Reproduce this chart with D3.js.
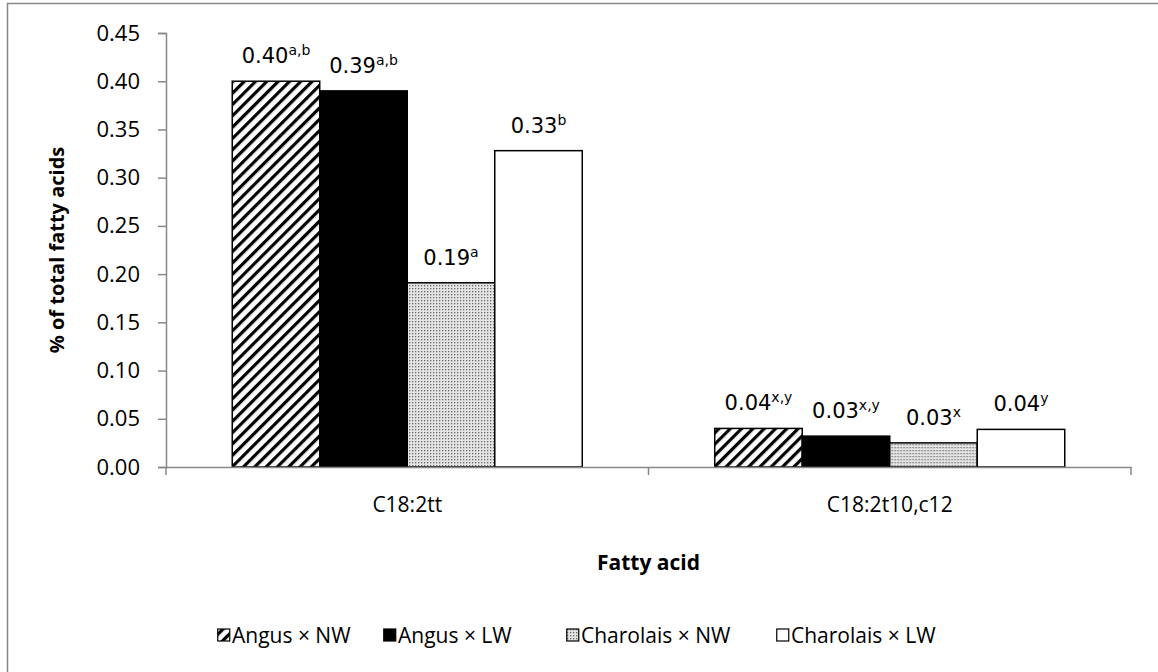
<!DOCTYPE html>
<html>
<head>
<meta charset="utf-8">
<script src="https://cdn.jsdelivr.net/npm/d3@7"></script>
<style>
  body { margin: 0; background: #fff; }
  text { font-family: "Open Sans", sans-serif; }
</style>
</head>
<body>
<div id="chart"></div>
<script>
// chart data
const categories = ["C18:2tt", "C18:2t10,c12"];
const series = ["Angus × NW", "Angus × LW", "Charolais × NW", "Charolais × LW"];
const values = [
  [0.400, 0.040],
  [0.390, 0.032],
  [0.191, 0.025],
  [0.328, 0.039]
];
const labelText = [
  ["0.40", "0.04"],
  ["0.39", "0.03"],
  ["0.19", "0.03"],
  ["0.33", "0.04"]
];
const labelSup = [
  ["a,b", "x,y"],
  ["a,b", "x,y"],
  ["a", "x"],
  ["b", "y"]
];
const yTicks = [0, 0.05, 0.10, 0.15, 0.20, 0.25, 0.30, 0.35, 0.40, 0.45];

const W = 1158, H = 672;
const margin = { left: 166, right: 27, top: 33, bottom: 205 };
const width = W - margin.left - margin.right,
      height = H - margin.top - margin.bottom;

const svg = d3.select('#chart').append('svg')
    .attr('width', W).attr('height', H);

// patterns
const defs = svg.append('defs');
const hatch = defs.append('pattern')
    .attr('id', 'hatch').attr('patternUnits', 'userSpaceOnUse')
    .attr('width', 8).attr('height', 8)
    .attr('patternTransform', 'rotate(45)');
hatch.append('rect').attr('width', 8).attr('height', 8).attr('fill', '#fff');
hatch.append('rect').attr('width', 3.2).attr('height', 8).attr('fill', '#000');

const dots = defs.append('pattern')
    .attr('id', 'dots').attr('patternUnits', 'userSpaceOnUse')
    .attr('width', 3).attr('height', 3);
dots.append('rect').attr('width', 3).attr('height', 3).attr('fill', '#e4e4e4');
dots.append('rect').attr('width', 1.3).attr('height', 1.3).attr('fill', '#6a6a6a');

const fills = ['url(#hatch)', '#000', 'url(#dots)', '#fff'];

// outer border
svg.append('rect')
    .attr('x', 7.5).attr('y', 3.5).attr('width', 1170).attr('height', 690)
    .attr('fill', 'none').attr('stroke', '#888').attr('stroke-width', 1.5);

const g = svg.append('g').attr('transform', `translate(${margin.left},${margin.top})`);

const x0 = d3.scaleBand().domain(categories).range([0, width]).paddingInner(0).paddingOuter(0);
const x1 = d3.scaleBand().domain(series).range([0, x0.bandwidth()]).paddingOuter(0.757);
const y = d3.scaleLinear().domain([0, 0.45]).range([height, 0]);

// y axis
const yAxis = g.append('g')
    .call(d3.axisLeft(y).tickValues(yTicks).tickFormat(d3.format('.2f')).tickSize(8).tickPadding(18));
yAxis.select('.domain').attr('stroke', '#888').attr('stroke-width', 1.5);
yAxis.selectAll('.tick line').attr('stroke', '#888').attr('stroke-width', 1.5);
yAxis.selectAll('.tick text').attr('font-size', 22).attr('fill', '#000')
    .style('font-family', '"Open Sans", sans-serif');

// bars
const groups = g.selectAll('.grp')
    .data(categories)
    .enter().append('g')
      .attr('class', 'grp')
      .attr('transform', d => `translate(${x0(d)},0)`);

groups.each(function(cat, ci) {
    const sel = d3.select(this);
    series.forEach((s, si) => {
        const v = values[si][ci];
        sel.append('rect')
            .attr('x', x1(s))
            .attr('y', y(v))
            .attr('width', x1.bandwidth())
            .attr('height', height - y(v))
            .attr('fill', fills[si])
            .attr('stroke', '#000')
            .attr('stroke-width', 1.5);
        const t = sel.append('text')
            .attr('x', x1(s) + x1.bandwidth() / 2)
            .attr('y', y(v) - 18)
            .attr('text-anchor', 'middle')
            .attr('font-size', 21)
            .attr('fill', '#000')
            .style('font-family', '"DejaVu Sans", sans-serif');
        t.append('tspan').text(labelText[si][ci]);
        t.append('tspan').attr('dy', -8).attr('font-size', 14).text(labelSup[si][ci]);
    });
});

// x axis
const xAxis = g.append('g')
    .attr('transform', `translate(0,${height})`)
    .call(d3.axisBottom(x0).tickSize(0).tickPadding(30));
xAxis.select('.domain').attr('stroke', '#888').attr('stroke-width', 1.5);
xAxis.selectAll('.tick text').attr('font-size', 21).attr('fill', '#000')
    .style('font-family', '"Open Sans", sans-serif');
// category boundary ticks
xAxis.selectAll('.bound')
    .data([0, x0.bandwidth(), width])
    .enter().append('line')
      .attr('class', 'bound')
      .attr('x1', d => d).attr('x2', d => d)
      .attr('y1', 0).attr('y2', 8)
      .attr('stroke', '#888').attr('stroke-width', 1.5);

// axis titles
svg.append('text')
    .attr('transform', `translate(64,${margin.top + height / 2}) rotate(-90)`)
    .attr('text-anchor', 'middle')
    .attr('font-size', 20).attr('font-weight', 'bold')
    .text('% of total fatty acids');

svg.append('text')
    .attr('x', margin.left + width / 2).attr('y', 570)
    .attr('text-anchor', 'middle')
    .attr('font-size', 21).attr('font-weight', 'bold')
    .text('Fatty acid');

// legend
const legendX = [217, 383, 566, 776];
const legend = svg.append('g').attr('transform', 'translate(0,635)');
series.forEach((s, i) => {
    legend.append('rect')
        .attr('x', legendX[i] + 0.75).attr('y', -6)
        .attr('width', 12).attr('height', 12)
        .attr('fill', fills[i])
        .attr('stroke', '#000').attr('stroke-width', 1.2);
    legend.append('text')
        .attr('x', legendX[i] + 15).attr('y', 8)
        .attr('font-size', 21)
        .text(s);
});
</script>
</body>
</html>
